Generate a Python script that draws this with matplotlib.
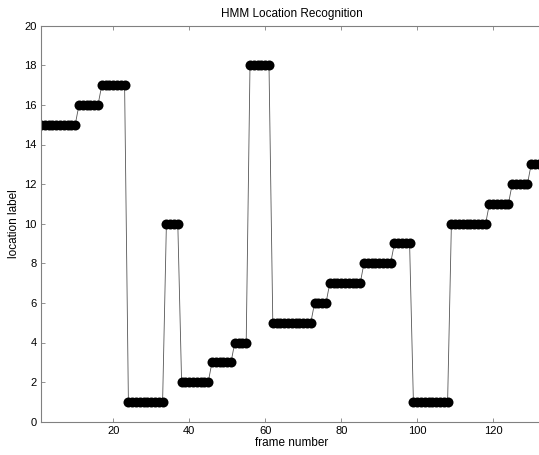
import matplotlib
matplotlib.use("Agg")
import matplotlib.pyplot as plt

plt.rcParams['font.family'] = ['Liberation Sans', 'DejaVu Sans']

# recognised location label for each frame
frames = list(range(1, 134))
labels = [15, 15, 15, 15, 15, 15, 15, 15, 15, 15,
          16, 16, 16, 16, 16, 16,
          17, 17, 17, 17, 17, 17, 17,
          1, 1, 1, 1, 1, 1, 1, 1, 1, 1,
          10, 10, 10, 10,
          2, 2, 2, 2, 2, 2, 2, 2,
          3, 3, 3, 3, 3, 3,
          4, 4, 4, 4,
          18, 18, 18, 18, 18, 18,
          5, 5, 5, 5, 5, 5, 5, 5, 5, 5, 5,
          6, 6, 6, 6,
          7, 7, 7, 7, 7, 7, 7, 7, 7,
          8, 8, 8, 8, 8, 8, 8, 8,
          9, 9, 9, 9, 9,
          1, 1, 1, 1, 1, 1, 1, 1, 1, 1,
          10, 10, 10, 10, 10, 10, 10, 10, 10, 10,
          11, 11, 11, 11, 11, 11,
          12, 12, 12, 12, 12,
          13, 13, 13, 13]
xticks = [20, 40, 60, 80, 100, 120]
yticks = list(range(0, 21, 2))

fig = plt.figure(figsize=(5.39, 4.55), dpi=100)
ax = fig.add_axes([41 / 539, 1 - 421.7 / 455, 501.6 / 539, 396 / 455])

ax.plot(frames, labels, color='#555555', linewidth=0.6, zorder=1)
ax.plot(frames, labels, 'o', color='black', markersize=7.2,
        markeredgewidth=0, zorder=2)

ax.set_xlim(1, 133)
ax.set_ylim(0, 20)
ax.set_xticks(xticks)
ax.set_yticks(yticks)
ax.tick_params(direction='in', top=True, right=True, length=3,
               width=0.6, colors='#808080', labelcolor='black',
               labelsize=8, pad=3)
for s in ax.spines.values():
    s.set_color('#808080')
    s.set_linewidth(0.8)

ax.set_title('HMM Location Recognition', fontsize=8.5, pad=6)
ax.set_xlabel('frame number', fontsize=8.5, labelpad=1)
ax.set_ylabel('location label', fontsize=8.5, labelpad=3)

fig.savefig('out.png', dpi=100)
